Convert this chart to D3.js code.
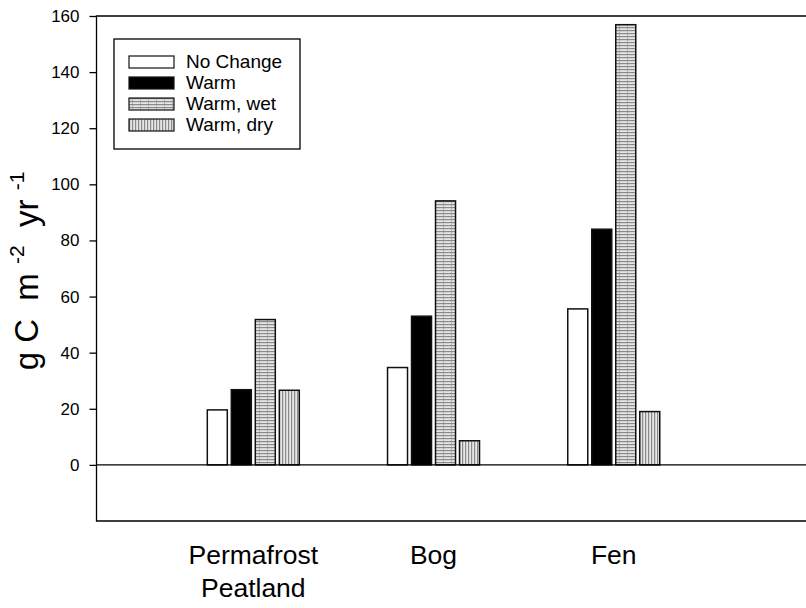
<!DOCTYPE html>
<html>
<head>
<meta charset="utf-8">
<script src="https://cdn.jsdelivr.net/npm/d3@7"></script>
<style>
    body { margin: 0; background: #fff; }
    text { font-family: Arial, "Liberation Sans", sans-serif; fill: #000; }
</style>
</head>
<body>
<svg id="chart" width="806" height="608"></svg>
<script>
// data (g C m-2 yr-1)
var sites = ['Permafrost Peatland', 'Bog', 'Fen']
var siteLabels = [['Permafrost', 'Peatland'], ['Bog'], ['Fen']]
var scenarios = ['No Change', 'Warm', 'Warm, wet', 'Warm, dry']
var noChange = [19.6, 34.7, 55.6]
var warm = [26.8, 53.0, 84.0]
var warmWet = [51.8, 94.1, 156.9]
var warmDry = [26.6, 8.6, 19.0]
var yTicks = [0, 20, 40, 60, 80, 100, 120, 140, 160]

var series = [noChange, warm, warmWet, warmDry]
var fills = ['#fff', '#000', 'url(#wet)', 'url(#dry)']

var svg = d3.select('#chart')
var defs = svg.append('defs')

// horizontal hatch (warm, wet)
var pw = defs.append('pattern').attr('id', 'wet').attr('patternUnits', 'userSpaceOnUse')
    .attr('width', 8).attr('height', 3)
pw.append('rect').attr('width', 8).attr('height', 3).attr('fill', '#e6e6e6')
pw.append('rect').attr('y', 0).attr('width', 8).attr('height', 1.2).attr('fill', '#8a8a8a')
pw.append('rect').attr('x', 3).attr('y', 1.2).attr('width', 1).attr('height', 1.8).attr('fill', '#b0b0b0')

// vertical hatch (warm, dry)
var pd = defs.append('pattern').attr('id', 'dry').attr('patternUnits', 'userSpaceOnUse')
    .attr('width', 3).attr('height', 8)
pd.append('rect').attr('width', 3).attr('height', 8).attr('fill', '#e6e6e6')
pd.append('rect').attr('width', 1.2).attr('height', 8).attr('fill', '#8a8a8a')

var mLeft = 96.5, mRight = 812, mTop = 16, mBottom = 521

var x = d3.scaleLinear().domain([-0.87, 3.1]).range([mLeft, mRight])
var y = d3.scaleLinear().domain([-20, 160]).range([mBottom, mTop])
var inner = d3.scaleBand().domain(scenarios).range([-48, 48]).paddingInner(1 / 6).paddingOuter(1 / 12)

// bars
for (let s = 0; s < series.length; s++) {
    svg.append('g').selectAll('rect')
        .data(series[s])
        .join('rect')
        .attr('x', (d, i) => x(i) + inner(scenarios[s]))
        .attr('y', d => y(d))
        .attr('width', inner.bandwidth())
        .attr('height', d => y(0) - y(d))
        .attr('fill', fills[s])
        .attr('stroke', '#111')
        .attr('stroke-width', 1.5)
}

// zero line + frame
svg.append('line').attr('x1', mLeft).attr('x2', mRight).attr('y1', y(0)).attr('y2', y(0))
    .attr('stroke', '#000').attr('stroke-width', 1.3)
svg.append('path')
    .attr('d', 'M' + mRight + ',' + y(160) + 'H' + mLeft + 'V' + y(-20) + 'H' + mRight)
    .attr('fill', 'none').attr('stroke', '#000').attr('stroke-width', 1.3)

var yAxis = d3.axisLeft(y).tickValues(yTicks).tickSize(7).tickPadding(10).tickSizeOuter(0)
var ga = svg.append('g').attr('transform', 'translate(' + mLeft + ',0)').call(yAxis)
ga.select('.domain').remove()
ga.selectAll('line').attr('stroke', '#000').attr('stroke-width', 1.3)
ga.selectAll('text').style('font-size', '17px').style('font-family', 'Arial, "Liberation Sans", sans-serif')

// category labels
siteLabels.forEach((lines, i) => {
    var t = svg.append('text').attr('x', x(i)).attr('y', 564)
        .attr('text-anchor', 'middle').style('font-size', '26.5px')
    lines.forEach((l, k) => {
        t.append('tspan').attr('x', x(i)).attr('dy', k == 0 ? 0 : 33).text(l)
    })
})

// y title
var yt = svg.append('text')
    .attr('transform', 'translate(38,' + 271 + ') rotate(-90)')
    .attr('text-anchor', 'middle').style('font-size', '33px').style('white-space', 'pre')
yt.append('tspan').text('g C  m ')
yt.append('tspan').attr('dy', -14).style('font-size', '21px').text('-2')
yt.append('tspan').attr('dy', 14).text('  yr ')
yt.append('tspan').attr('dy', -14).style('font-size', '21px').text('-1')

// legend
var lg = svg.append('g').attr('transform', 'translate(114,39)')
lg.append('rect').attr('width', 186).attr('height', 110)
    .attr('fill', '#fff').attr('stroke', '#000').attr('stroke-width', 1.3)
scenarios.forEach((s, i) => {
    var row = lg.append('g').attr('transform', 'translate(15,' + (17 + i * 21) + ')')
    row.append('rect').attr('width', 45).attr('height', 12)
        .attr('fill', fills[i]).attr('stroke', '#111').attr('stroke-width', 1.2)
    row.append('text').attr('x', 57).attr('y', 12).style('font-size', '19px').text(s)
})
</script>
</body>
</html>
